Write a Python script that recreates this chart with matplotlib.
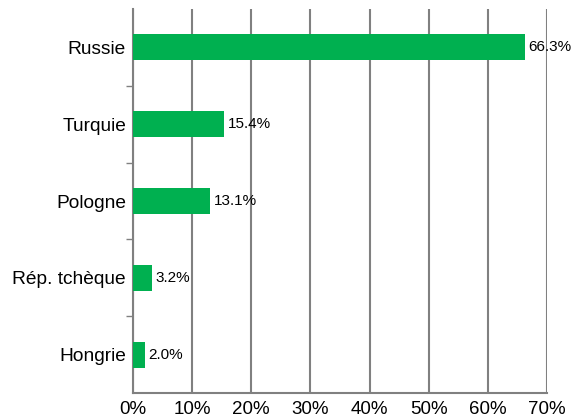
import matplotlib
matplotlib.use("Agg")
import matplotlib.pyplot as plt
import numpy as np

plt.rcParams["font.family"] = ["Liberation Sans", "DejaVu Sans"]

countries = ["Russie", "Turquie", "Pologne", "Rép. tchèque", "Hongrie"]
shares = [66.3, 15.4, 13.1, 3.2, 2.0]
xticks = [0, 10, 20, 30, 40, 50, 60, 70]

fig = plt.figure(figsize=(5.79, 4.19), dpi=100)
ax = fig.add_axes([133 / 579, 26 / 419, 414 / 579, 384 / 419])

y = np.arange(len(countries))[::-1]
ax.barh(y, shares, height=0.34, color="#00B050", zorder=3)
for yi, v in zip(y, shares):
    ax.text(v + 0.6, yi, f"{v:.1f}%", va="center", ha="left", fontsize=11, zorder=4)

ax.set_xlim(0, 70)
ax.set_ylim(-0.5, len(countries) - 0.5)
ax.set_xticks(xticks)
ax.set_xticklabels([f"{t}%" for t in xticks], fontsize=13.5)
ax.set_yticks(y)
ax.set_yticklabels(countries, fontsize=13.8)
ax.tick_params(axis="y", length=0, pad=5)
ax.tick_params(axis="x", length=0, pad=6)
ax.set_yticks(np.arange(len(countries) - 1) + 0.5, minor=True)
ax.tick_params(axis="y", which="minor", length=5, color="#808080", width=1)

ax.grid(axis="x", color="#808080", linewidth=1.5, zorder=0)
for side in ["top", "right"]:
    ax.spines[side].set_visible(False)
for side in ["left", "bottom"]:
    ax.spines[side].set_color("#808080")
    ax.spines[side].set_linewidth(1.5)

fig.savefig("out.png", dpi=100)
